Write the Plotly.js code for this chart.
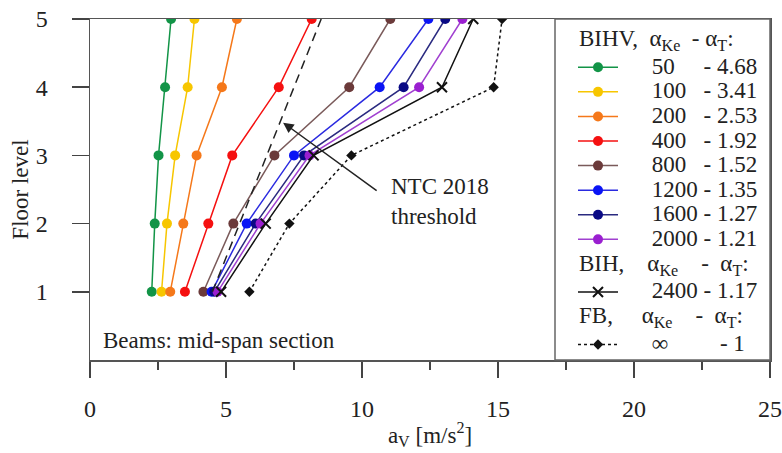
<!DOCTYPE html>
<html>
<head>
<meta charset="utf-8">
<script src="https://cdn.plot.ly/plotly-3.0.1.min.js"></script>
<style>html,body{margin:0;padding:0;background:#fff;}#chart{width:782px;height:453px;}</style>
</head>
<body>
<div id="chart"></div>
<script>
// ---- data ----
var floors = [1, 2, 3, 4, 5];
var a50   = [2.27, 2.38, 2.52, 2.76, 2.98];
var a100  = [2.63, 2.83, 3.13, 3.59, 3.84];
var a200  = [2.95, 3.43, 3.92, 4.85, 5.40];
var a400  = [3.49, 4.35, 5.23, 6.94, 8.15];
var a800  = [4.17, 5.27, 6.78, 9.53, 11.04];
var a1200 = [4.47, 5.76, 7.50, 10.65, 12.44];
var a1600 = [4.57, 6.09, 7.87, 11.53, 13.06];
var a2000 = [4.69, 6.27, 8.07, 12.10, 13.69];
var a2400 = [4.82, 6.46, 8.22, 12.94, 14.09];
var aFB   = [5.86, 7.33, 9.61, 14.84, 15.15];
var threshold = [4.5, 5.5, 6.5, 7.5, 8.5];

var alphaKe = ['50', '100', '200', '400', '800', '1200', '1600', '2000'];
var alphaT  = ['4.68', '3.41', '2.53', '1.92', '1.52', '1.35', '1.27', '1.21'];
var bihKe = '2400', bihT = '1.17';
var fbKe = '\u221E', fbT = '1';

var xTickVals = [0, 5, 10, 15, 20, 25];
var yTickVals = [1, 2, 3, 4, 5];

// ---- styles ----
var FONT = "'Liberation Serif', 'Times New Roman', serif";
var colors = ['#129447', '#f7c600', '#f5781a', '#f51010', '#6b3a3a', '#0a14f5', '#0a0a85', '#9a1fd0'];
var lineColors = ['#129447', '#f7c600', '#f5781a', '#f51010', '#7a5a5a', '#2a2ae0', '#2a2a80', '#a040d0'];
var series = [a50, a100, a200, a400, a800, a1200, a1600, a2000];

function nb(n) { return new Array(n + 1).join('\u00A0'); }
function label(ke, t, gap) {
  return '<span style="font-size:23px">' + nb(5) + ke + nb(gap) + '- ' + t + '</span>';
}
function gapFor(ke) { return ke.length === 2 ? 5 : (ke.length === 3 ? 3 : 1); }

var traces = [];
series.forEach(function (s, i) {
  traces.push({
    x: s, y: floors, type: 'scatter', mode: 'lines+markers',
    name: label(alphaKe[i], alphaT[i], gapFor(alphaKe[i])),
    legendgroup: 'g1',
    line: {color: lineColors[i], width: 1.5},
    marker: {color: colors[i], size: 10, symbol: 'circle'}
  });
});
traces.push({
  x: a2400, y: floors, type: 'scatter', mode: 'lines+markers',
  name: label(bihKe, bihT, 1), legendgroup: 'g2',
  line: {color: '#111', width: 1.5},
  marker: {color: '#111', size: 10, symbol: 'x-thin-open', line: {color: '#111', width: 2}}
});
traces.push({
  x: aFB, y: floors, type: 'scatter', mode: 'lines+markers',
  name: label(fbKe, fbT, 9), legendgroup: 'g3',
  line: {color: '#111', width: 1.5, dash: '3px,3px'},
  marker: {color: '#111', size: 8, symbol: 'diamond'}
});
traces.push({
  x: threshold, y: floors, type: 'scatter', mode: 'lines', showlegend: false,
  line: {color: '#222', width: 1.5, dash: '9px,6px'}
});

function px2paperX(p) { return (p - 90) / 680; }
function px2paperY(p) { return (360 - p) / 341; }

var headerBIHV = 'BIHV,' + nb(2) + '\u03B1<sub>Ke</sub>' + nb(2) + '- \u03B1<sub>T</sub>:';
var headerBIH = 'BIH,' + nb(4) + '\u03B1<sub>Ke</sub>' + nb(4) + '-' + nb(2) + '\u03B1<sub>T</sub>:';
var headerFB = 'FB,' + nb(5) + '\u03B1<sub>Ke</sub>' + nb(4) + '-' + nb(2) + '\u03B1<sub>T</sub>:';

var layout = {
  width: 782, height: 453,
  margin: {l: 90, r: 12, t: 19, b: 93},
  paper_bgcolor: '#fff', plot_bgcolor: '#fff',
  font: {family: FONT, size: 22, color: '#222'},
  showlegend: true,
  xaxis: {
    range: [0, 25], tickvals: xTickVals, ticks: 'outside', ticklen: 16, tickwidth: 1.5, tickcolor: '#444',
    showgrid: false, zeroline: false, showline: true, linecolor: '#555', linewidth: 1.5, mirror: true,
    ticklabelstandoff: 11,
    tickfont: {family: FONT, size: 24, color: '#222'},
    minor: {dtick: 2.5, tick0: 0, ticks: 'outside', ticklen: 8, tickwidth: 1.5, tickcolor: '#444', showgrid: false},
    title: {text: 'a<sub>V</sub> [m/s<sup>2</sup>]', font: {family: FONT, size: 23, color: '#222'}, standoff: 5}
  },
  yaxis: {
    range: [0, 5], tickvals: yTickVals, ticks: 'outside', ticklen: 17, tickwidth: 1.5, tickcolor: '#444',
    showgrid: false, zeroline: false, showline: true, linecolor: '#555', linewidth: 1.5, mirror: true,
    ticklabelstandoff: 19,
    tickfont: {family: FONT, size: 24, color: '#222'},
    title: {text: 'Floor level', font: {family: FONT, size: 23, color: '#222'}, standoff: 0}
  },
  legend: {
    x: px2paperX(573), y: px2paperY(50), xanchor: 'left', yanchor: 'top',
    font: {family: FONT, size: 16.6, color: '#222'},
    itemwidth: 40, tracegroupgap: 28, bgcolor: 'rgba(0,0,0,0)', borderwidth: 0,
    traceorder: 'grouped'
  },
  shapes: [{
    type: 'rect', xref: 'paper', yref: 'paper',
    x0: px2paperX(555), x1: 1, y0: 0, y1: 1,
    line: {color: '#666', width: 1.5}
  }],
  annotations: [
    {xref: 'paper', yref: 'paper', x: px2paperX(577), y: px2paperY(40), xanchor: 'left', yanchor: 'middle',
     text: headerBIHV, showarrow: false, font: {family: FONT, size: 23, color: '#222'}},
    {xref: 'paper', yref: 'paper', x: px2paperX(577), y: px2paperY(265), xanchor: 'left', yanchor: 'middle',
     text: headerBIH, showarrow: false, font: {family: FONT, size: 23, color: '#222'}},
    {xref: 'paper', yref: 'paper', x: px2paperX(577), y: px2paperY(317), xanchor: 'left', yanchor: 'middle',
     text: headerFB, showarrow: false, font: {family: FONT, size: 23, color: '#222'}},
    {xref: 'paper', yref: 'paper', x: px2paperX(101), y: px2paperY(340), xanchor: 'left', yanchor: 'middle',
     text: 'Beams: mid-span section', showarrow: false, font: {family: FONT, size: 23, color: '#222'}},
    {x: 11.0, y: 2.33, xref: 'x', yref: 'y', xanchor: 'left', yanchor: 'middle', align: 'left',
     text: 'NTC 2018<br>threshold', showarrow: false, font: {family: FONT, size: 23, color: '#222'}},
    {x: 7.1, y: 3.48, xref: 'x', yref: 'y', text: '', showarrow: true, ax: 95, ay: 69,
     arrowhead: 2, arrowsize: 1.4, arrowwidth: 1.5, arrowcolor: '#222'}
  ]
};

Plotly.newPlot('chart', traces, layout, {displayModeBar: false, staticPlot: true});
</script>
</body>
</html>
